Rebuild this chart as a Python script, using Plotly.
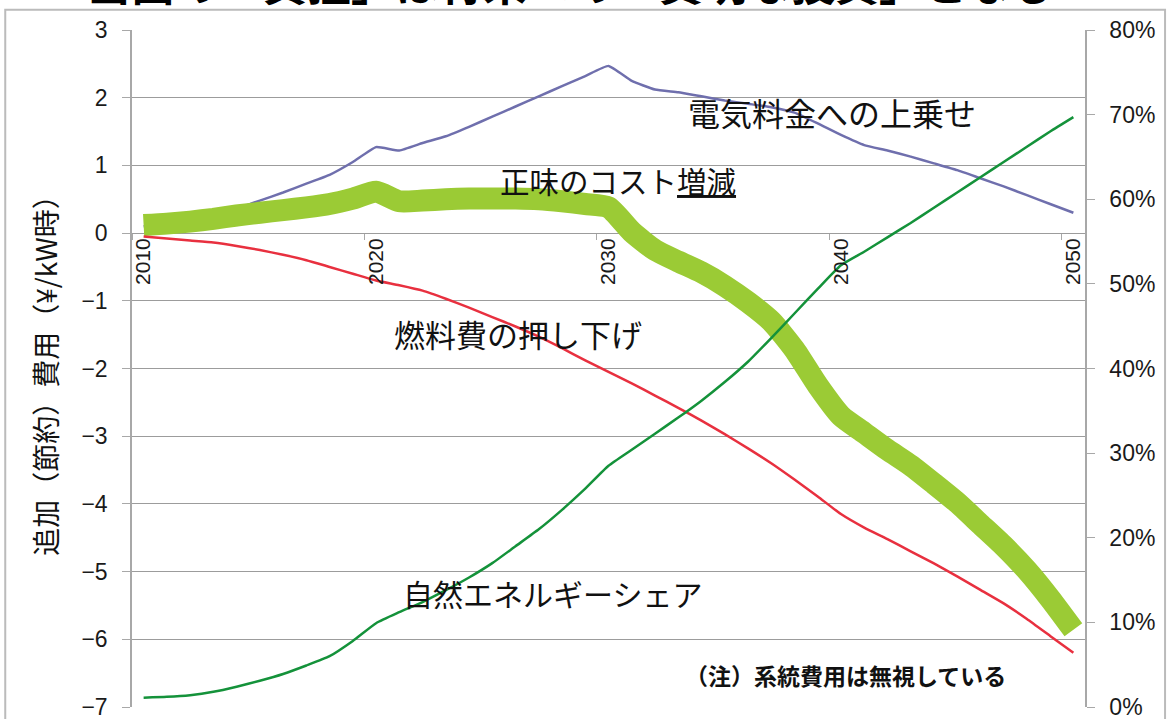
import plotly.graph_objects as go

years = list(range(2010, 2051))

# 電気料金への上乗せ (円/kWh)
surcharge = [0.10, 0.13, 0.17, 0.25, 0.36, 0.48, 0.60, 0.73, 0.86, 1.05,
             1.27, 1.22, 1.33, 1.43, 1.57, 1.72, 1.87, 2.02, 2.17, 2.32,
             2.47, 2.25, 2.12, 2.08, 2.02, 1.96, 1.91, 1.86, 1.78, 1.62,
             1.45, 1.30, 1.22, 1.13, 1.03, 0.93, 0.81, 0.69, 0.56, 0.43,
             0.30]

# 燃料費の押し下げ (円/kWh)
fuel = [-0.05, -0.08, -0.11, -0.14, -0.19, -0.25, -0.32, -0.40, -0.50, -0.60,
        -0.70, -0.77, -0.85, -0.97, -1.10, -1.24, -1.38, -1.53, -1.70, -1.88,
        -2.05, -2.22, -2.40, -2.58, -2.77, -2.97, -3.18, -3.40, -3.64, -3.89,
        -4.15, -4.35, -4.52, -4.70, -4.88, -5.07, -5.27, -5.47, -5.70, -5.95,
        -6.20]

# 正味のコスト増減 (円/kWh)
net = [0.12, 0.14, 0.17, 0.21, 0.26, 0.30, 0.34, 0.38, 0.43, 0.51,
       0.61, 0.47, 0.48, 0.50, 0.51, 0.51, 0.51, 0.50, 0.47, 0.43,
       0.38, 0.02, -0.25, -0.42, -0.58, -0.78, -1.02, -1.30, -1.72, -2.25,
       -2.70, -2.95, -3.20, -3.43, -3.70, -3.98, -4.30, -4.62, -4.98, -5.40,
       -5.86]

# 自然エネルギーシェア (%)
share = [1.1, 1.2, 1.4, 1.8, 2.4, 3.1, 3.9, 4.9, 6.0, 7.8,
         9.9, 11.2, 12.4, 13.8, 15.3, 17.0, 19.0, 21.0, 23.3, 25.8,
         28.5, 30.4, 32.3, 34.2, 36.2, 38.4, 40.8, 43.6, 46.5, 49.4,
         52.2, 53.8, 55.5, 57.2, 59.0, 60.8, 62.6, 64.4, 66.2, 68.0,
         69.7]
share_frac = [v / 100 for v in share]

x_ticks = [2010, 2020, 2030, 2040, 2050]
x_labels = [str(v) for v in x_ticks]

JP = "Noto Sans CJK JP"
NUM = "Liberation Sans, Arial, sans-serif"
GRID = "#9C9C9C"

fig = go.Figure()
fig.add_trace(go.Scatter(x=years, y=surcharge, mode="lines",
                         line=dict(color="#6F6FAD", width=2.5, shape="spline", smoothing=0.4),
                         yaxis="y", name="電気料金への上乗せ"))
fig.add_trace(go.Scatter(x=years, y=net, mode="lines",
                         line=dict(color="#9BCB35", width=22, shape="spline", smoothing=0.6),
                         yaxis="y", name="正味のコスト増減"))
fig.add_trace(go.Scatter(x=years, y=fuel, mode="lines",
                         line=dict(color="#E8303F", width=2.5, shape="spline", smoothing=0.5),
                         yaxis="y", name="燃料費の押し下げ"))
fig.add_trace(go.Scatter(x=years, y=share_frac, mode="lines",
                         line=dict(color="#14923A", width=2.5, shape="spline", smoothing=0.5),
                         yaxis="y2", name="自然エネルギーシェア"))

fig.update_layout(
    width=1170, height=719,
    margin=dict(l=132, r=85, t=30, b=12, autoexpand=False),
    paper_bgcolor="white", plot_bgcolor="white",
    showlegend=False,
    xaxis=dict(
        range=[2009.5, 2050.5], tickmode="array", tickvals=x_ticks, ticktext=x_labels,
        tickangle=-90, anchor="free", position=0.7, automargin=False,
        showgrid=False, showline=False, zeroline=False, ticks="",
        tickfont=dict(family=NUM, size=21, color="#1a1a1a"),
        minor=dict(ticks="outside", tick0=2009.5, dtick=10, ticklen=6,
                   tickcolor="#A8A8A8", showgrid=False),
    ),
    yaxis=dict(
        range=[-7, 3], tick0=0, dtick=1, showgrid=True, gridcolor=GRID, gridwidth=1.2,
        zeroline=False, showline=True, linecolor="#A8A8A8", linewidth=1.5,
        ticks="outside", ticklen=8, tickcolor="#A8A8A8", automargin=False,
        ticklabelstandoff=10, ticklabeloverflow="allow",
        tickfont=dict(family=NUM, size=23, color="#1a1a1a"),
    ),
    yaxis2=dict(
        range=[0, 0.8], overlaying="y", side="right", tickformat=".0%", dtick=0.1, tick0=0,
        showgrid=False, zeroline=False, showline=True, linecolor="#A8A8A8", linewidth=1.5,
        ticks="outside", ticklen=8, tickcolor="#A8A8A8", automargin=False,
        ticklabelstandoff=10, ticklabeloverflow="allow",
        tickfont=dict(family=NUM, size=23, color="#1a1a1a"),
    ),
)

def ann(text, x, y, size=29, bold=False, **kw):
    fig.add_annotation(text=f"<b>{text}</b>" if bold else text, x=x, y=y, xref="x", yref="y",
                       showarrow=False, font=dict(family=JP, size=size, color="#111"), **kw)

ann("電気料金への上乗せ", 2039.6, 1.79, size=32)
ann("正味のコスト<u>増減</u>", 2030.4, 0.78, size=29.5)
ann("燃料費の押し下げ", 2026.1, -1.48, size=31)
ann("自然エネルギーシェア", 2027.6, -5.32, size=30)
ann("（注）系統費用は無視している", 2040.2, -6.52, size=23, bold=True)

# y-axis title
fig.add_annotation(text="追加（節約）費用（¥/kW時）", x=-0.092, y=0.5, xref="paper", yref="paper",
                   xanchor="center", yanchor="middle",
                   textangle=-90, showarrow=False,
                   font=dict(family=JP, size=28, color="#111"))

# slide title, cut off at the top edge as in the source image
fig.add_annotation(text="<b>当面の「負担」は将来への「賢明な投資」となる</b>", x=0.46, y=1.021,
                   xref="paper", yref="paper", xanchor="center", yanchor="bottom",
                   showarrow=False, font=dict(family=JP, size=44, color="#000"))

# outer frame of the chart object
fig.add_shape(type="rect", xref="paper", yref="paper", x0=-0.133, x1=1.084, y0=-0.05, y1=1.03,
              line=dict(color="#BBBBBB", width=2), fillcolor="rgba(0,0,0,0)", layer="below")

fig.write_html("out.html")
